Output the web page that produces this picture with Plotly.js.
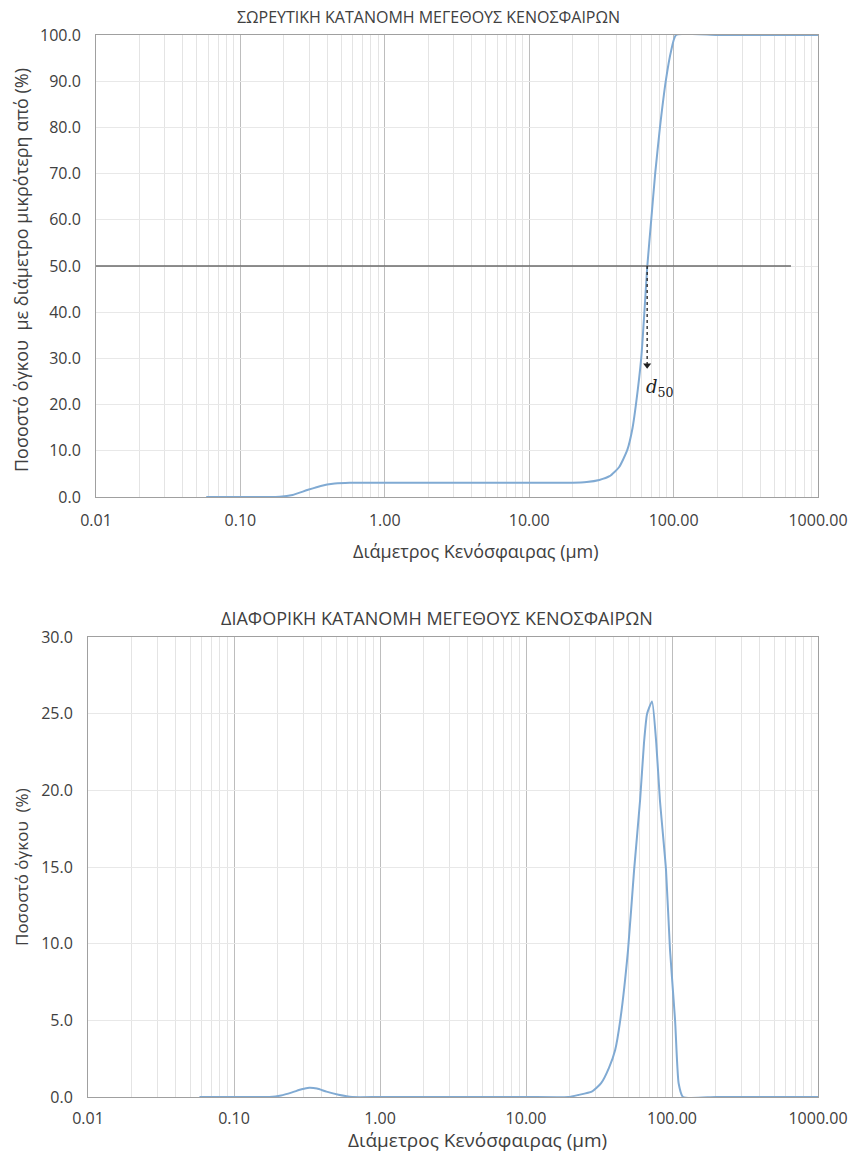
<!DOCTYPE html>
<html>
<head>
<meta charset="utf-8">
<script src="https://cdn.plot.ly/plotly-3.0.1.min.js"></script>
<style>html,body{margin:0;padding:0;background:#fff;}#chart{width:852px;height:1154px;}</style>
</head>
<body>
<div id="chart"></div>
<script>
// ---- data ----
const xTickVals = [0.01, 0.1, 1, 10, 100, 1000];
const xTickText = ["0.01", "0.10", "1.00", "10.00", "100.00", "1000.00"];

const cumDiameter = [0.058, 0.1, 0.15, 0.187, 0.23, 0.29, 0.36, 0.45, 0.57, 0.8, 1.5, 5, 10, 20, 25, 30.6, 36, 42, 47.8, 52, 55, 59.7, 62.7, 65.6, 70, 74.6, 80.5, 88.5, 96, 104, 200, 500, 1000];
const cumPercent  = [0, 0, 0, 0.05, 0.45, 1.5, 2.4, 2.9, 3.1, 3.1, 3.1, 3.1, 3.1, 3.1, 3.25, 3.7, 4.5, 6.5, 10.2, 15.0, 20.3, 30.1, 39.8, 49.6, 60.0, 70.1, 80.1, 90.3, 96.5, 100, 100, 100, 100];

const difDiameter = [0.058, 0.1, 0.15, 0.175, 0.21, 0.25, 0.29, 0.327, 0.37, 0.43, 0.52, 0.645, 1, 5, 10, 19.5, 22.8, 28.2, 32.7, 37, 40.8, 44.2, 50, 55, 60.5, 64.3, 67.5, 73, 78, 82.6, 91, 96.9, 105, 111, 119, 200, 500, 1000];
const difPercent  = [0, 0, 0, 0, 0.1, 0.3, 0.5, 0.6, 0.55, 0.35, 0.15, 0, 0, 0, 0, 0, 0.13, 0.35, 0.9, 1.9, 3.07, 5.0, 9.6, 14.8, 19.4, 23.1, 25.0, 25.8, 23.1, 19.4, 14.8, 9.6, 5.0, 0.9, 0, 0, 0, 0];

const halfLineX = [0.01, 650];
const halfLineY = [50, 50];
const d50Value = 65.6;
const d50ArrowY = [50, 28.5];

const titleTop = "ΣΩΡΕΥΤΙΚΗ ΚΑΤΑΝΟΜΗ ΜΕΓΕΘΟΥΣ ΚΕΝΟΣΦΑΙΡΩΝ";
const titleBottom = "ΔΙΑΦΟΡΙΚΗ ΚΑΤΑΝΟΜΗ ΜΕΓΕΘΟΥΣ ΚΕΝΟΣΦΑΙΡΩΝ";
const xTitle = "Διάμετρος Κενόσφαιρας (μm)";
const yTitleTop = "Ποσοστό όγκου  με διάμετρο μικρότερη από (%)";
const yTitleBottom = "Ποσοστό όγκου  (%)";

// ---- styling ----
const W = 852, H = 1154;
const FONT = "Open Sans, sans-serif";
const TXT = "#404040";
const curveColor = "#80aad3";

const minorVals = [];
for (let e = -2; e < 3; e++) for (let d = 2; d <= 9; d++) minorVals.push(d * Math.pow(10, e));

function xaxisDef(domain, anchor, standoff) {
  return {
    type: "log", domain: domain, anchor: anchor, range: [-2, 3],
    tickmode: "array", tickvals: xTickVals, ticktext: xTickText,
    showgrid: true, gridcolor: "#bdbdbd", gridwidth: 1,
    minor: {tickmode: "array", tickvals: minorVals, showgrid: true, gridcolor: "#e4e4e4", gridwidth: 1, ticks: ""},
    showline: true, linecolor: "#a0a0a0", linewidth: 1, mirror: true,
    ticks: "", zeroline: false, ticklabelstandoff: standoff,
    tickfont: {family: FONT, size: 16, color: TXT}
  };
}
function yaxisDef(domain, anchor, max, dtick) {
  return {
    domain: domain, anchor: anchor, range: [0, max], dtick: dtick, tick0: 0,
    tickformat: ".1f", showgrid: true, gridcolor: "#e8e8e8", zeroline: false,
    showline: true, linecolor: "#a0a0a0", linewidth: 1, mirror: true, ticks: "",
    ticklabelstandoff: 11,
    tickfont: {family: FONT, size: 16, color: TXT}
  };
}

const traces = [
  {x: cumDiameter, y: cumPercent, xaxis: "x", yaxis: "y", mode: "lines",
   line: {color: curveColor, width: 2, shape: "spline", smoothing: 0.5}, hoverinfo: "skip"},
  {x: halfLineX, y: halfLineY, xaxis: "x", yaxis: "y", mode: "lines",
   line: {color: "#6a6a6a", width: 1.5}, hoverinfo: "skip"},
  {x: [d50Value, d50Value], y: d50ArrowY, xaxis: "x", yaxis: "y", mode: "lines",
   line: {color: "#202020", width: 1.3, dash: "dot"}, hoverinfo: "skip"},
  {x: [d50Value], y: [d50ArrowY[1]], xaxis: "x", yaxis: "y", mode: "markers",
   marker: {symbol: "triangle-down", size: 7, color: "#202020"}, hoverinfo: "skip"},
  {x: difDiameter, y: difPercent, xaxis: "x2", yaxis: "y2", mode: "lines",
   line: {color: curveColor, width: 2, shape: "spline", smoothing: 0.5}, hoverinfo: "skip"}
];

function ann(text, x, y, size, angle) {
  return {text: text, xref: "paper", yref: "paper", x: x / W, y: 1 - y / H,
          xanchor: "center", yanchor: "middle", textangle: angle || 0,
          showarrow: false, font: {family: FONT, size: size, color: TXT}};
}

const layout = {
  width: W, height: H, showlegend: false,
  margin: {l: 0, r: 0, t: 0, b: 0},
  paper_bgcolor: "#fff", plot_bgcolor: "#fff",
  xaxis: xaxisDef([96 / W, 818 / W], "y", 9),
  yaxis: yaxisDef([1 - 497 / H, 1 - 35 / H], "x", 100, 10),
  xaxis2: xaxisDef([88 / W, 818 / W], "y2", 7),
  yaxis2: yaxisDef([1 - 1097 / H, 1 - 637 / H], "x2", 30, 5),
  annotations: [
    ann(titleTop, 428, 17, 16),
    ann(titleBottom, 437, 618, 18),
    ann(xTitle, 476, 551, 18),
    ann(xTitle, 477, 1140, 19),
    ann(yTitleTop, 21, 270, 18, -90),
    ann(yTitleBottom, 21, 867, 17, -90),
    {text: "<i>d</i><sub>50</sub>", xref: "x", yref: "y", x: Math.log10(80), y: 23.5,
     xanchor: "center", yanchor: "middle",
     showarrow: false, font: {family: "DejaVu Serif, serif", size: 18, color: "#202020"}}
  ]
};

Plotly.newPlot("chart", traces, layout, {staticPlot: true, displayModeBar: false});
</script>
</body>
</html>
